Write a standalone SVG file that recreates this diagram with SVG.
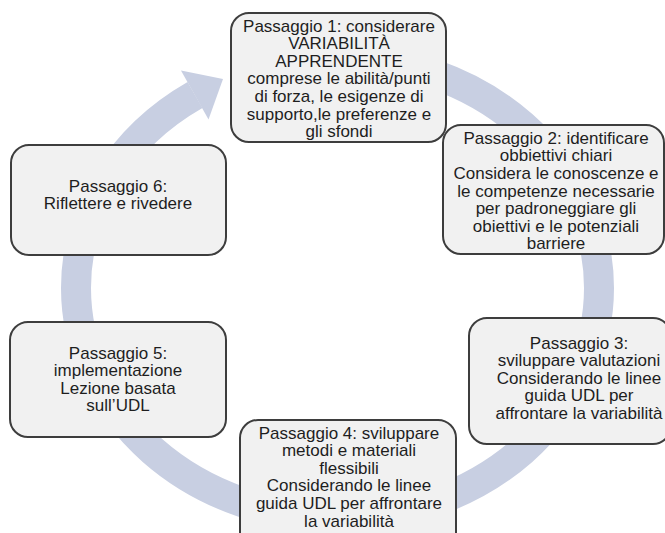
<svg xmlns="http://www.w3.org/2000/svg" width="665" height="533" viewBox="0 0 665 533">
  <style>
    .box { fill: #f1f1f1; stroke: #3d3d3d; stroke-width: 2; }
    .t { font-family: "Liberation Sans", Arial, sans-serif; font-size: 17px; fill: #1e1e1e; text-anchor: middle; }
    .ring { fill: none; stroke: #c8cfe2; stroke-width: 30; }
    .head { fill: #c8cfe2; }
  </style>
  <rect width="665" height="533" fill="#ffffff"/>
  <g id="connectors">
    <path class="ring" d="M 337.5 58 A 261.5 230 0 0 1 599 288 A 261.5 230 0 0 1 337.5 518 A 261.5 230 0 0 1 76 288 A 261.5 230 0 0 1 195 95.1"/>
    <polygon class="head" points="181,70.5 223,79 208.5,119.5"/>
  </g>
  <g id="step1">
    <rect class="box" x="231" y="13" width="215" height="129" rx="18"/>
    <text class="t" x="339" y="31.5">Passaggio 1: considerare</text>
    <text class="t" x="339" y="49.1">VARIABILITÀ</text>
    <text class="t" x="339" y="66.7">APPRENDENTE</text>
    <text class="t" x="339" y="84.3">comprese le abilità/punti</text>
    <text class="t" x="339" y="101.9">di forza, le esigenze di</text>
    <text class="t" x="339" y="119.5">supporto,le preferenze e</text>
    <text class="t" x="339" y="137.1">gli sfondi</text>
  </g>
  <g id="step2">
    <rect class="box" x="443" y="125" width="221" height="129" rx="18"/>
    <text class="t" x="556" y="143.8">Passaggio 2: identificare</text>
    <text class="t" x="556" y="161.4">obbiettivi chiari</text>
    <text class="t" x="556" y="179">Considera le conoscenze e</text>
    <text class="t" x="556" y="196.6">le competenze necessarie</text>
    <text class="t" x="556" y="214.2">per padroneggiare gli</text>
    <text class="t" x="556" y="231.8">obiettivi e le potenziali</text>
    <text class="t" x="556" y="249.4">barriere</text>
  </g>
  <g id="step3">
    <rect class="box" x="469" y="318" width="202" height="126" rx="18"/>
    <text class="t" x="579" y="348.5">Passaggio 3:</text>
    <text class="t" x="579" y="366.1">sviluppare valutazioni</text>
    <text class="t" x="579" y="383.7">Considerando le linee</text>
    <text class="t" x="579" y="401.3">guida UDL per</text>
    <text class="t" x="579" y="418.9">affrontare la variabilità</text>
  </g>
  <g id="step4">
    <rect class="box" x="240" y="420" width="216" height="130" rx="18"/>
    <text class="t" x="349" y="438.5">Passaggio 4: sviluppare</text>
    <text class="t" x="349" y="456.1">metodi e materiali</text>
    <text class="t" x="349" y="473.7">flessibili</text>
    <text class="t" x="349" y="491.3">Considerando le linee</text>
    <text class="t" x="349" y="508.9">guida UDL per affrontare</text>
    <text class="t" x="349" y="526.5">la variabilità</text>
  </g>
  <g id="step5">
    <rect class="box" x="10" y="322" width="216" height="115" rx="18"/>
    <text class="t" x="118" y="358.6">Passaggio 5:</text>
    <text class="t" x="118" y="376.2">implementazione</text>
    <text class="t" x="118" y="393.8">Lezione basata</text>
    <text class="t" x="118" y="411.4">sull’UDL</text>
  </g>
  <g id="step6">
    <rect class="box" x="11" y="145" width="215" height="110" rx="18"/>
    <text class="t" x="118" y="191.5">Passaggio 6:</text>
    <text class="t" x="118" y="209.1">Riflettere e rivedere</text>
  </g>
</svg>
